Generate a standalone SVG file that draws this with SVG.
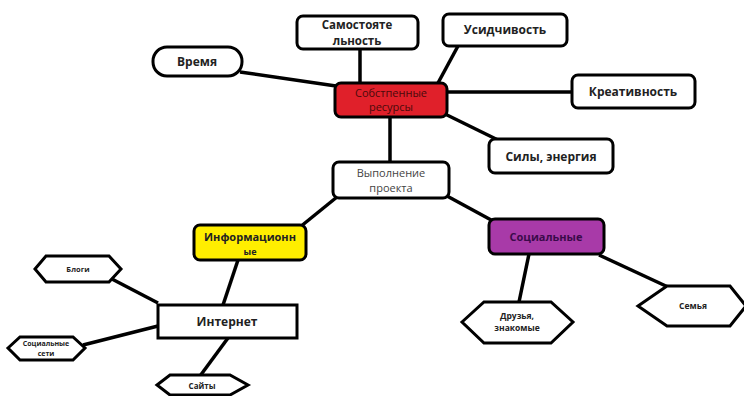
<svg xmlns="http://www.w3.org/2000/svg" width="744" height="396" viewBox="0 0 744 396">
<style>
.n{fill:#fff;stroke:#000;stroke-width:3}
.t{font-family:"Open Sans","DejaVu Sans",sans-serif;font-weight:bold;font-size:12px;fill:#222;text-anchor:middle}
.s{font-size:7.5px}
.c line{stroke:#000;stroke-width:3.5}
</style>
<rect width="744" height="396" fill="#fff"/>
<g class="c">
<line x1="240" y1="72" x2="336" y2="86"/>
<line x1="360" y1="49" x2="360" y2="84"/>
<line x1="458" y1="46" x2="438" y2="83"/>
<line x1="447" y1="92" x2="572" y2="92"/>
<line x1="445" y1="114" x2="498" y2="140"/>
<line x1="390" y1="117" x2="390" y2="162"/>
<line x1="337" y1="197" x2="300" y2="227"/>
<line x1="447" y1="196" x2="493" y2="221"/>
<line x1="238" y1="260" x2="223" y2="305"/>
<line x1="110" y1="278" x2="158" y2="303"/>
<line x1="83" y1="345" x2="158" y2="326"/>
<line x1="228" y1="338" x2="200" y2="376"/>
<line x1="529" y1="254" x2="519" y2="302"/>
<line x1="599" y1="255" x2="668" y2="287"/>
</g>
<g id="vremya"><rect class="n" x="153" y="47" width="89" height="29" rx="14"/><text class="t" x="197" y="66">Время</text></g>
<g id="samost"><rect class="n" x="297" y="16" width="121" height="33" rx="6"/><text class="t" x="357" y="29" style="font-size:11.5px">Самостояте</text><text class="t" x="357" y="45" style="font-size:11.5px">льность</text></g>
<g id="usid"><rect class="n" x="443" y="14" width="124" height="32" rx="6"/><text class="t" x="505" y="34">Усидчивость</text></g>
<g id="kreat"><rect class="n" x="572" y="75" width="123" height="33" rx="6"/><text class="t" x="633" y="96">Креативность</text></g>
<g id="sily"><rect class="n" x="489" y="139" width="124" height="34" rx="6"/><text class="t" x="551" y="161">Силы, энергия</text></g>
<g id="sobst"><rect x="335" y="83" width="112" height="34" rx="6" fill="#e0202a" stroke="#000" stroke-width="3"/><text class="t" x="391" y="97" style="font-weight:normal;font-size:11px;fill:#4a0a0a">Собстпенные</text><text class="t" x="391" y="111" style="font-weight:normal;font-size:11px;fill:#4a0a0a">ресурсы</text></g>
<g id="vypoln"><rect class="n" x="333" y="162" width="116" height="36" rx="6"/><text class="t" x="391" y="177" style="font-weight:normal;font-size:11px;fill:#444">Выполнение</text><text class="t" x="391" y="192" style="font-weight:normal;font-size:11px;fill:#444">проекта</text></g>
<g id="inform"><rect x="194" y="225" width="112" height="35" rx="6" fill="#ffee00" stroke="#000" stroke-width="3"/><text class="t" x="250" y="241" style="font-size:11px">Информационн</text><text class="t" x="250" y="255" style="font-size:9px">ые</text></g>
<g id="social"><rect x="489" y="219" width="115" height="35" rx="6" fill="#a83aa8" stroke="#000" stroke-width="3"/><text class="t" x="546" y="241" style="font-size:11px;fill:#3a0a4a">Социальные</text></g>
<g id="internet"><rect class="n" x="158" y="305" width="139" height="33" stroke-width="3.5"/><text class="t" x="227" y="326">Интернет</text></g>
<g id="blogi"><polygon class="n" points="35,269 46,256 109,256 121,269 109,282 46,282"/><text class="t s" x="78" y="272">Блоги</text></g>
<g id="socseti"><polygon class="n" points="8,348 20,337 73,337 85,348 73,360 20,360"/><text class="t s" x="46" y="346" style="font-size:7px">Социальные</text><text class="t s" x="46" y="356" style="font-size:7px">сети</text></g>
<g id="saity"><polygon class="n" points="157,385 170,375 230,375 248,385 230,395 170,395"/><text class="t s" x="202" y="389" style="font-size:8px">Сайты</text></g>
<g id="druzya"><polygon class="n" points="462,322 484,302 551,302 573,322 551,343 484,343"/><text class="t s" x="517" y="319" style="font-size:8.5px">Друзья,</text><text class="t s" x="517" y="331" style="font-size:8.5px">знакомые</text></g>
<g id="semya"><polygon class="n" points="638,306 667,286 730,286 746,306 730,326 667,326"/><text class="t s" x="693" y="309" style="font-size:8.5px">Семья</text></g>
</svg>
